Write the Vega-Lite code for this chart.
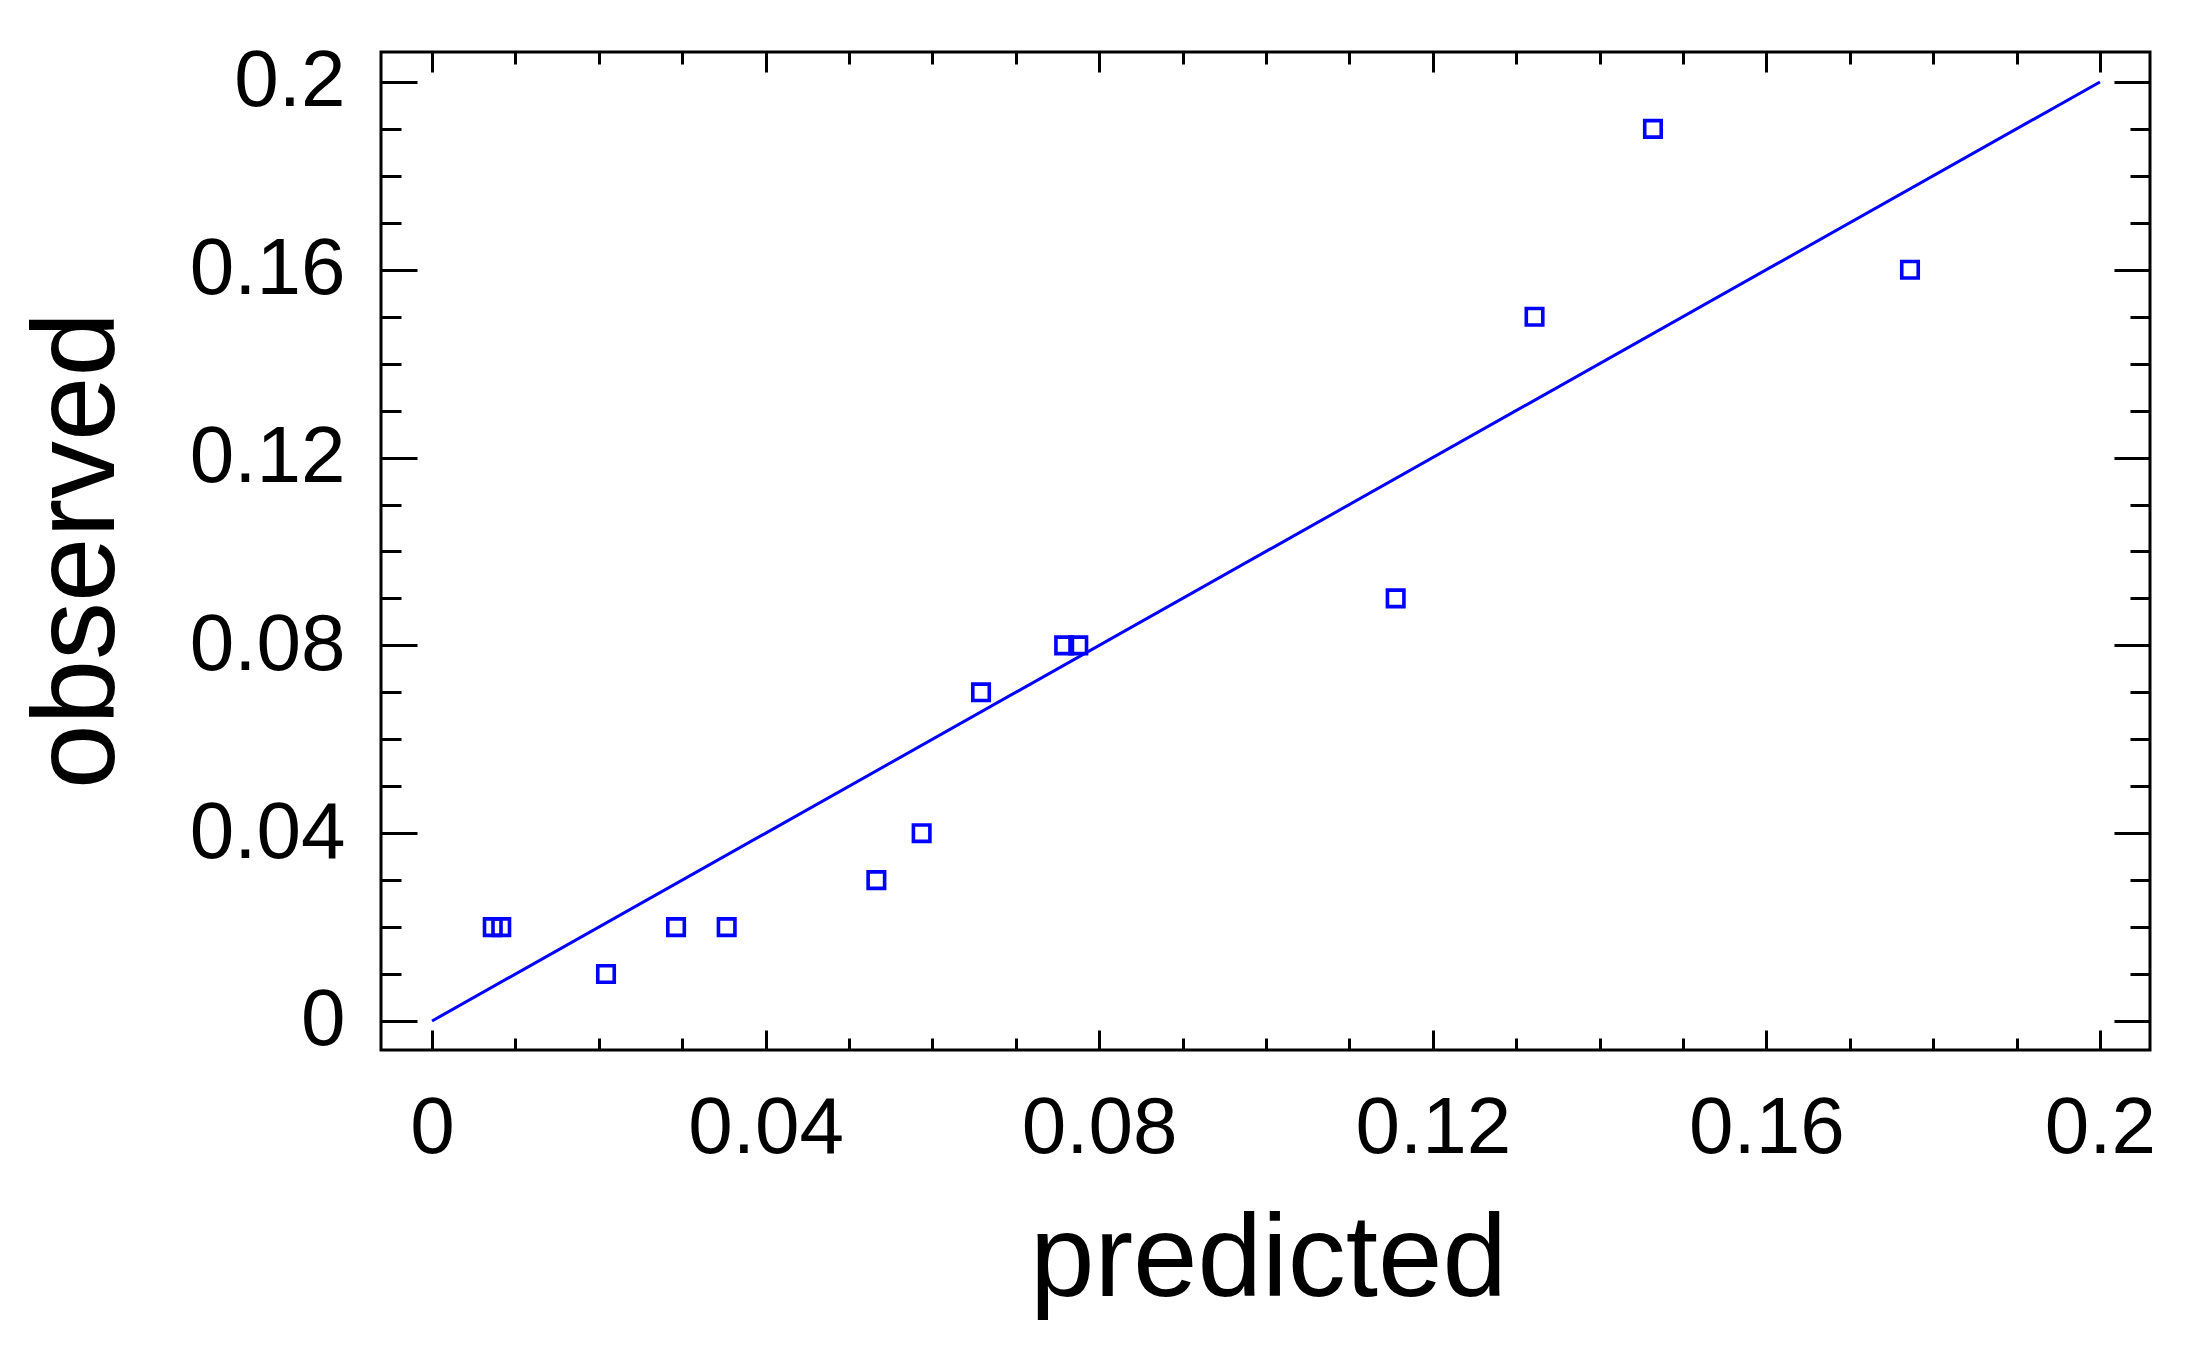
{
  "$schema": "https://vega.github.io/schema/vega-lite/v6.json",
  "width": 1769,
  "height": 998,
  "autosize": "none",
  "padding": {"left": 381, "top": 52, "right": 55, "bottom": 305},
  "background": "white",
  "config": {
    "view": {"stroke": "black", "strokeWidth": 3},
    "axis": {"domain": false, "grid": false, "tickColor": "black", "tickWidth": 3, "labelColor": "black", "labelFont": "Liberation Sans", "labelFontSize": 80, "titleFont": "Liberation Sans", "titleFontSize": 116, "titleFontWeight": "normal", "titleColor": "black", "labelOverlap": false, "labelFlush": false}
  },
  "datasets": {
    "points": [
      {"predicted": 0.00728, "observed": 0.02},
      {"predicted": 0.0083, "observed": 0.02},
      {"predicted": 0.02086, "observed": 0.01},
      {"predicted": 0.02926, "observed": 0.02},
      {"predicted": 0.03533, "observed": 0.02},
      {"predicted": 0.05328, "observed": 0.03},
      {"predicted": 0.05871, "observed": 0.04},
      {"predicted": 0.06583, "observed": 0.07},
      {"predicted": 0.0758, "observed": 0.08},
      {"predicted": 0.07749, "observed": 0.08},
      {"predicted": 0.11555, "observed": 0.09},
      {"predicted": 0.1322, "observed": 0.15},
      {"predicted": 0.1464, "observed": 0.19},
      {"predicted": 0.17722, "observed": 0.16}
    ],
    "ref": [
      {"predicted": 0, "observed": 0},
      {"predicted": 0.2, "observed": 0.2}
    ]
  },
  "layer": [
    {
      "data": {"name": "points"},
      "mark": {"type": "point", "shape": "square", "filled": false, "color": "#0000FF", "strokeWidth": 3.6, "size": 272, "opacity": 1},
      "encoding": {
        "x": {
          "field": "predicted", "type": "quantitative",
          "scale": {"domain": [-0.00612, 0.206], "nice": false, "zero": false},
          "axis": {
            "orient": "bottom",
            "values": [0, 0.01, 0.02, 0.03, 0.04, 0.05, 0.06, 0.07, 0.08, 0.09, 0.1, 0.11, 0.12, 0.13, 0.14, 0.15, 0.16, 0.17, 0.18, 0.19, 0.2],
            "tickSize": {"condition": {"test": "abs(datum.value*25 - round(datum.value*25)) < 0.001", "value": -20}, "value": -12},
            "labelExpr": "abs(datum.value*25 - round(datum.value*25)) < 0.001 ? format(datum.value, '.2~f') : ''",
            "labelPadding": 59,
            "title": "predicted",
            "titleBaseline": "alphabetic",
            "titleY": 245,
            "titleX": 887
          }
        },
        "y": {
          "field": "observed", "type": "quantitative",
          "scale": {"domain": [-0.00618, 0.20638], "nice": false, "zero": false},
          "axis": {
            "orient": "left",
            "values": [0, 0.01, 0.02, 0.03, 0.04, 0.05, 0.06, 0.07, 0.08, 0.09, 0.1, 0.11, 0.12, 0.13, 0.14, 0.15, 0.16, 0.17, 0.18, 0.19, 0.2],
            "tickSize": {"condition": {"test": "abs(datum.value*25 - round(datum.value*25)) < 0.001", "value": -36}, "value": -20},
            "labelExpr": "abs(datum.value*25 - round(datum.value*25)) < 0.001 ? format(datum.value, '.2~f') : ''",
            "labelPadding": 72,
            "title": "observed",
            "titleAngle": -90,
            "titleBaseline": "alphabetic",
            "titleX": -268,
            "titleY": 498
          }
        }
      }
    },
    {
      "data": {"name": "ref"},
      "mark": {"type": "line", "color": "#0000FF", "strokeWidth": 3},
      "encoding": {
        "x": {
          "field": "predicted", "type": "quantitative",
          "axis": {
            "orient": "top",
            "values": [0, 0.01, 0.02, 0.03, 0.04, 0.05, 0.06, 0.07, 0.08, 0.09, 0.1, 0.11, 0.12, 0.13, 0.14, 0.15, 0.16, 0.17, 0.18, 0.19, 0.2],
            "tickSize": {"condition": {"test": "abs(datum.value*25 - round(datum.value*25)) < 0.001", "value": -20}, "value": -12},
            "labels": false,
            "title": null
          }
        },
        "y": {
          "field": "observed", "type": "quantitative",
          "axis": {
            "orient": "right",
            "values": [0, 0.01, 0.02, 0.03, 0.04, 0.05, 0.06, 0.07, 0.08, 0.09, 0.1, 0.11, 0.12, 0.13, 0.14, 0.15, 0.16, 0.17, 0.18, 0.19, 0.2],
            "tickSize": {"condition": {"test": "abs(datum.value*25 - round(datum.value*25)) < 0.001", "value": -36}, "value": -20},
            "labels": false,
            "title": null
          }
        }
      }
    }
  ],
  "resolve": {"axis": {"x": "independent", "y": "independent"}}
}
